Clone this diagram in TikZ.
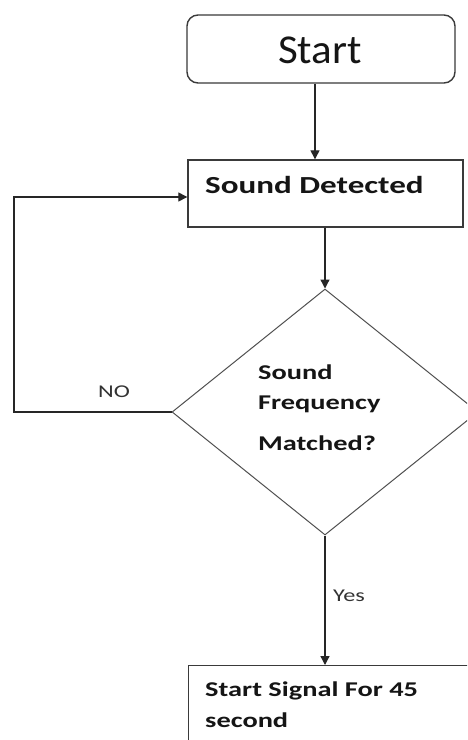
\documentclass[tikz,border=0pt]{standalone}
\usepackage{fontspec}
\setmainfont{Carlito}
\newfontfamily\widefont{Carlito}[FakeStretch=1.35]
\newfontfamily\startfont{Carlito}[FakeStretch=1.05]
\usetikzlibrary{arrows.meta,shapes.geometric}
\definecolor{edgegray}{HTML}{3A3A3A}
\definecolor{diagray}{HTML}{505050}
\definecolor{txt}{HTML}{151515}
\tikzset{
  boxshape/.style={draw=edgegray, line width=1.4pt, fill=white, inner sep=0pt},
  arr/.style={draw=black!85, line width=1.3pt, -{Triangle[length=9pt,width=9pt]}},
  boldtxt/.style={anchor=base west, inner sep=0pt, text=txt, font=\widefont\bfseries\fontsize{21}{21}\selectfont},
  bigbold/.style={boldtxt, font=\widefont\bfseries\fontsize{24.5}{24.5}\selectfont},
  lbl/.style={inner sep=0pt, text=black!80, font=\widefont\fontsize{18}{18}\selectfont}
}
\begin{document}
\begin{tikzpicture}[x=1pt,y=-1pt]
\useasboundingbox (0,0) rectangle (467,740);
\clip (0,0) rectangle (467,740);
\fill[white] (0,0) rectangle (467,740);

% Start
\node[boxshape, rounded corners=11pt, minimum width=268pt, minimum height=68pt] (start) at (321,49) {};
\node[anchor=base, inner sep=0pt, text=txt, font=\startfont\fontsize{41}{41}\selectfont] (starttxt) at (320,63) {Start};

% Sound Detected
\node[boxshape, minimum width=275pt, minimum height=67pt] (sd) at (325.5,193.5) {};
\node[bigbold] (sdtxt) at (205,193) {Sound Detected};

% Decision diamond
\node[draw=diagray, line width=1pt, diamond, minimum width=306pt, minimum height=246pt, inner sep=0pt] (dec) at (325,412) {};
\node[boldtxt] (d1) at (258,379) {Sound};
\node[boldtxt] (d2) at (258,409) {Frequency};
\node[boldtxt] (d3) at (258,450) {Matched?};

% Final box
\node[boxshape, minimum width=320pt, minimum height=120pt, anchor=north west] (sig) at (188,665) {};
\node[boldtxt] (s1) at (205,696) {Start Signal For 45};
\node[boldtxt] (s2) at (205,727) {second};

% Connectors
\draw[arr] ([xshift=-6pt]start.south) -- ([xshift=-6pt]start.south |- sd.north);
\draw[arr] (sd.south -| dec.north) -- (dec.north);
\coordinate (loopc) at (14,197);
\draw[arr] (dec.west) -| (loopc) -- ([yshift=-3.5pt]sd.west);
\draw[arr] (dec.south) -- (dec.south |- sig.north);

% Labels
\node[lbl] (no) at (114,392) {NO};
\node[lbl, anchor=base west] (yes) at (333,601) {Yes};
\end{tikzpicture}
\end{document}
